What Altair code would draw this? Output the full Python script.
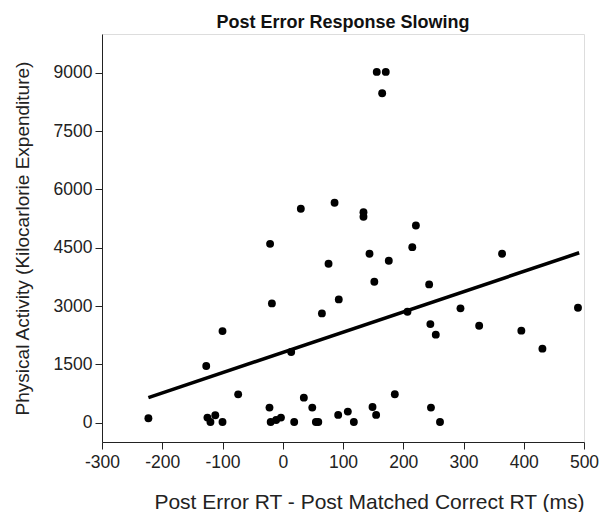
import altair as alt
import pandas as pd

# Scatter data (ms difference, kcal)
rt_diff = [-223, -127, -100, -74, -125, -120, -112, -100, -21, -18, -22, -20, -11, -3,
           19, 14, 30, 86, 76, 93, 65, 35, 49, 55, 59, 92, 108, 134, 134, 221, 215,
           144, 176, 364, 152, 243, 295, 490, 207, 245, 254, 326, 396, 431, 186, 118,
           149, 155, 246, 261, 156, 171, 165]
kcal = [110, 1455, 2355, 727, 128, 15, 188, 15, 4600, 3067, 385, 15, 67, 128,
        15, 1815, 5502, 5656, 4088, 3170, 2810, 642, 385, 15, 15, 197, 283, 5415, 5296,
        5073, 4515, 4345, 4165, 4345, 3625, 3556, 2939, 2956, 2853, 2535, 2262, 2493,
        2365, 1903, 728, 15, 402, 197, 385, 15, 9024, 9024, 8474]

# Fitted line endpoints
line_x = [-223, 492]
line_y = [642, 4370]

x_ticks = [-300, -200, -100, 0, 100, 200, 300, 400, 500]
y_ticks = [0, 1500, 3000, 4500, 6000, 7500, 9000]

pts = pd.DataFrame({"x": rt_diff, "y": kcal})
ln = pd.DataFrame({"x": line_x, "y": line_y})

FONT = "Liberation Sans"

xscale = alt.Scale(domain=[-300, 500], nice=False, zero=False)
yscale = alt.Scale(domain=[-500, 10000], nice=False, zero=False)

xaxis = alt.Axis(values=x_ticks, title="Post Error RT - Post Matched Correct RT (ms)",
                 labelExpr="datum.value + ''",
                 grid=False, tickSize=7, labelPadding=4, labelFontSize=17.5,
                 labelFont=FONT, labelColor="#222", titleFont=FONT, titleFontSize=21,
                 titleFontWeight="normal", titleColor="#222", titleX=267, titleY=60,
                 titleAlign="center", titleBaseline="middle", domainColor="#222",
                 tickColor="#222", labelFlush=False, labelOverlap=False)
yaxis = alt.Axis(values=y_ticks, title="Physical Activity (Kilocarlorie Expenditure)",
                 labelExpr="datum.value + ''",
                 grid=False, tickSize=7, labelPadding=3, labelFontSize=17.5,
                 labelFont=FONT, labelColor="#222", titleFont=FONT, titleFontSize=19,
                 titleFontWeight="normal", titleColor="#222", titleX=-80,
                 titleBaseline="middle", domainColor="#222", tickColor="#222",
                 labelFlush=False, labelOverlap=False)

points = alt.Chart(pts).mark_circle(size=62, color="black", opacity=1).encode(
    x=alt.X("x:Q", scale=xscale, axis=xaxis),
    y=alt.Y("y:Q", scale=yscale, axis=yaxis),
)

line = alt.Chart(ln).mark_line(color="black", strokeWidth=3.5).encode(
    x=alt.X("x:Q", scale=xscale),
    y=alt.Y("y:Q", scale=yscale),
)

chart = alt.layer(points, line).properties(
    width=482, height=408,
    title=alt.TitleParams("Post Error Response Slowing", font=FONT, fontSize=18,
                          fontWeight="bold", color="#111", anchor="middle",
                          baseline="alphabetic", offset=6, dy=18),
    autosize=alt.AutoSizeParams(type="none"),
    padding={"left": 102, "top": 34, "right": 25, "bottom": 70},
).configure_view(stroke=None).configure(background="white")

chart.save("out.html", embed_options={"renderer": "svg", "actions": False})
